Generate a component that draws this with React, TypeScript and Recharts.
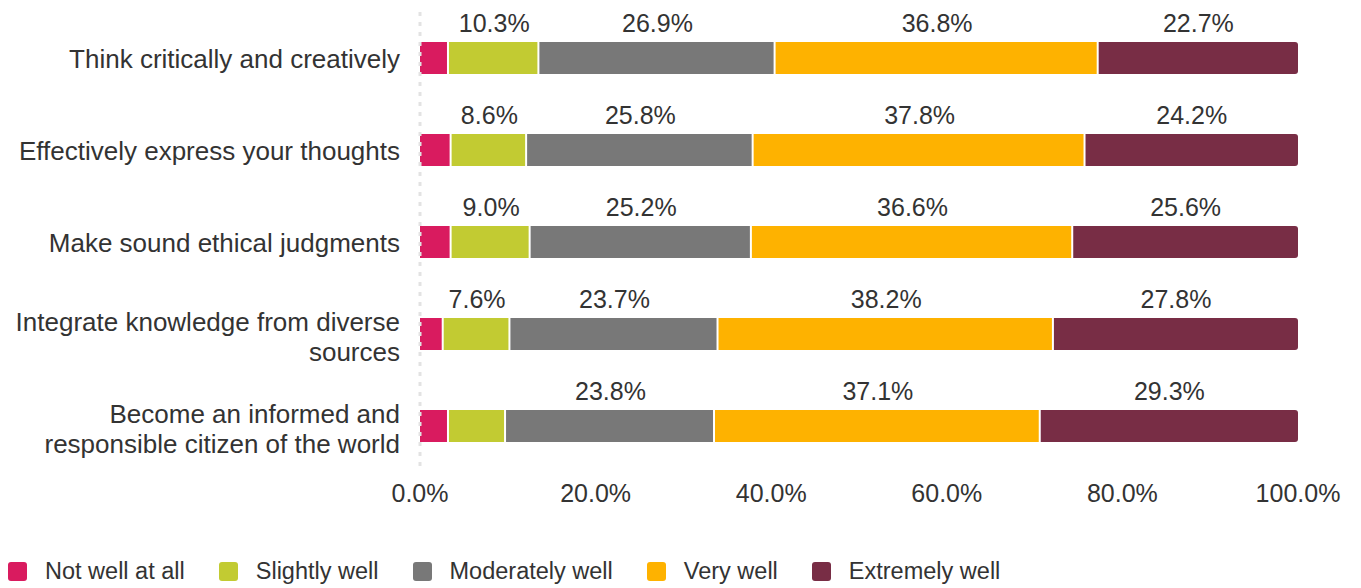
import { BarChart, Bar, XAxis, YAxis, Legend, LabelList } from 'recharts'

const CATEGORIES = [
  'Think critically and creatively',
  'Effectively express your thoughts',
  'Make sound ethical judgments',
  'Integrate knowledge from diverse\nsources',
  'Become an informed and\nresponsible citizen of the world',
]

const NOT_WELL = [3.3, 3.6, 3.6, 2.7, 3.3]
const SLIGHTLY = [10.3, 8.6, 9.0, 7.6, 6.5]
const MODERATELY = [26.9, 25.8, 25.2, 23.7, 23.8]
const VERY = [36.8, 37.8, 36.6, 38.2, 37.1]
const EXTREMELY = [22.7, 24.2, 25.6, 27.8, 29.3]

const SERIES_NAMES = ['Not well at all', 'Slightly well', 'Moderately well', 'Very well', 'Extremely well']
const SERIES_VALUES = [NOT_WELL, SLIGHTLY, MODERATELY, VERY, EXTREMELY]
const X_TICKS = [0, 20, 40, 60, 80, 100]

const COLORS = ['#D91B5F', '#C2CB32', '#787878', '#FEB200', '#782D45']
const FONT = '"Liberation Sans", Arial, sans-serif'
const TEXT = '#333333'

const data = CATEGORIES.map((name, i) => {
  const row: Record<string, string | number> = { name }
  SERIES_NAMES.forEach((s, j) => {
    row[s] = SERIES_VALUES[j][i]
  })
  return row
})

// segments sit next to each other with a thin white gap
function GapBar(props: any) {
  const { x, y, width, height, fill } = props
  return <rect x={x} y={y} width={Math.max(width - 2, 0)} height={height} fill={fill} />
}

function ValueLabel(props: any) {
  const { x, y, width, value } = props
  const v = Number(value)
  if (v < 7) return null
  return (
    <text x={x + width / 2} y={y - 10} textAnchor="middle" fontSize={25} fill={TEXT} fontFamily={FONT}>
      {v.toFixed(1)}%
    </text>
  )
}

function CategoryTick(props: any) {
  const { x, y, payload } = props
  const lines = String(payload.value).split('\n')
  const lh = 30
  const shift = lines.length > 1 ? 2.5 : 0
  return (
    <text textAnchor="end" fontSize={26} fill={TEXT} fontFamily={FONT}>
      {lines.map((line, i) => (
        <tspan key={i} x={x} y={y + 9.5 + shift + (i - (lines.length - 1) / 2) * lh}>
          {line}
        </tspan>
      ))}
    </text>
  )
}

function LegendContent() {
  return (
    <div style={{ display: 'flex', alignItems: 'center', fontFamily: FONT, fontSize: 23.5, color: TEXT, whiteSpace: 'nowrap' }}>
      {SERIES_NAMES.map((name, i) => (
        <div key={name} style={{ display: 'flex', alignItems: 'center', marginRight: 34 }}>
          <span style={{ width: 19, height: 19, borderRadius: 3, background: COLORS[i], marginRight: 18, display: 'inline-block' }} />
          <span>{name}</span>
        </div>
      ))}
    </div>
  )
}

export default function App() {
  return (
    <div style={{ position: 'absolute', left: 0, top: 0, background: '#fff', fontFamily: FONT }}>
      <BarChart width={1361} height={588} data={data} layout="vertical" margin={{ top: 12, right: 63, bottom: 86, left: 0 }}>
        <XAxis
          type="number"
          domain={[0, 100]}
          ticks={X_TICKS}
          tickFormatter={(v: number) => `${v.toFixed(1)}%`}
          axisLine={false}
          tickLine={false}
          tickMargin={6}
          tick={{ fontSize: 25, fill: TEXT, fontFamily: FONT }}
        />
        <YAxis
          type="category"
          dataKey="name"
          width={420}
          tickLine={false}
          tickMargin={14}
          axisLine={{ stroke: '#e3e3e3', strokeWidth: 3, strokeDasharray: '4 6' }}
          tick={<CategoryTick />}
          interval={0}
        />
        <Legend
          layout="horizontal"
          verticalAlign="middle"
          align="center"
          wrapperStyle={{ left: 8, top: 558, width: 'auto', height: 'auto' }}
          content={<LegendContent />}
        />
        {SERIES_NAMES.map((name, i) => {
          const last = i === SERIES_NAMES.length - 1
          return (
            <Bar
              key={name}
              dataKey={name}
              stackId="a"
              fill={COLORS[i]}
              barSize={32}
              isAnimationActive={false}
              shape={last ? undefined : <GapBar />}
              radius={last ? [0, 3, 3, 0] : 0}
            >
              <LabelList dataKey={name} content={<ValueLabel />} />
            </Bar>
          )
        })}
      </BarChart>
    </div>
  )
}
